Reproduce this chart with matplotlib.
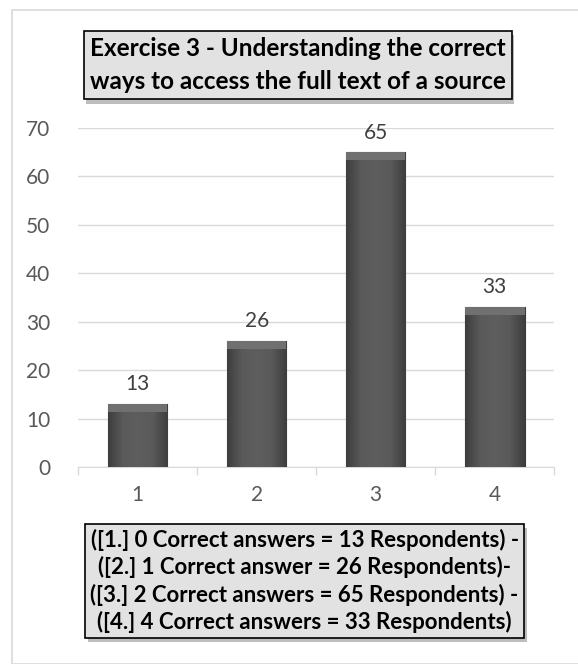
import numpy as np
import matplotlib
matplotlib.use("Agg")
import matplotlib.pyplot as plt
import matplotlib.patheffects as pe
from matplotlib.patches import Rectangle
from matplotlib.colors import LinearSegmentedColormap

#Data
categories = ["1", "2", "3", "4"]
respondents = [13, 26, 65, 33]
y_ticks = [0, 10, 20, 30, 40, 50, 60, 70]

title_text = "Exercise 3 - Understanding the correct\nways to access the full text of a source"
note_text = ("([1.] 0 Correct answers = 13 Respondents) -\n"
             "([2.] 1 Correct answer = 26 Respondents)-\n"
             "([3.] 2 Correct answers = 65 Respondents) -\n"
             "([4.] 4 Correct answers = 33 Respondents)")

plt.rcParams["font.family"] = ["Lato", "DejaVu Sans"]

fig = plt.figure(figsize=(5.78, 6.64), dpi=100)
#Light outer frame of the chart area
fig.patches.append(Rectangle((12 / 578, 0.0), 0.99, 654 / 664, transform=fig.transFigure,
                             fill=False, edgecolor="#d9d9d9", linewidth=1.2))

ax = fig.add_axes([0.135, 0.2967, 0.824, 0.5105])
x = np.arange(len(categories))
bars = ax.bar(x, respondents, width=0.5, color="#525252", edgecolor="#3a3a3a",
              linewidth=0.8, zorder=3)

#Dark horizontal gradient on each bar to mimic the bevel look
bar_cmap = LinearSegmentedColormap.from_list("bev", ["#3e3e3e", "#5a5a5a", "#5e5e5e", "#5a5a5a", "#3e3e3e"])
grad = np.tile(np.linspace(0, 1, 64), (2, 1))
bevel = 1.6
for b in bars:
    im = ax.imshow(grad, cmap=bar_cmap, aspect="auto",
                   extent=[b.get_x(), b.get_x() + b.get_width(), 0, b.get_height()],
                   zorder=3.5)
    im.set_clip_path(b)
    ax.add_patch(Rectangle((b.get_x(), b.get_height() - bevel), b.get_width(),
                           bevel, color="#707070", linewidth=0, zorder=3.6))

for b, v in zip(bars, respondents):
    ax.annotate(str(v), (b.get_x() + b.get_width() / 2, v), xytext=(0, 7),
                textcoords="offset points", ha="center", va="bottom",
                fontsize=15, color="#404040")

ax.set_xlim(-0.5, len(categories) - 0.5)
ax.set_ylim(0, 70)
ax.set_yticks(y_ticks)
ax.set_xticks(x)
ax.set_xticklabels(categories)
ax.set_xticks(np.arange(len(categories) + 1) - 0.5, minor=True)
ax.tick_params(axis="x", which="major", length=0, pad=13, labelsize=15, colors="#595959")
ax.tick_params(axis="x", which="minor", length=6, color="#d9d9d9", width=1)
ax.tick_params(axis="y", length=0, pad=20, labelsize=15, colors="#595959")
ax.grid(axis="y", color="#d9d9d9", linewidth=1, zorder=0)
ax.set_axisbelow(True)
for s in ["top", "right", "left"]:
    ax.spines[s].set_visible(False)
ax.spines["bottom"].set_color("#d9d9d9")

#Title and note boxes
box = dict(boxstyle="square,pad=0.25", facecolor="#e2e2e2", edgecolor="black", linewidth=1.2)
t = fig.text(0.515, 0.902, title_text, ha="center", va="center", fontsize=17.5,
             fontweight="bold", linespacing=1.55, bbox=box)
t.get_bbox_patch().set_path_effects([pe.withSimplePatchShadow(offset=(2, -3), alpha=0.35)])
n = fig.text(0.527, 0.125, note_text, ha="center", va="center", fontsize=16,
             fontweight="bold", linespacing=1.28, bbox=box)
n.get_bbox_patch().set_path_effects([pe.withSimplePatchShadow(offset=(2, -3), alpha=0.35)])

fig.savefig("out.png", dpi=100)
